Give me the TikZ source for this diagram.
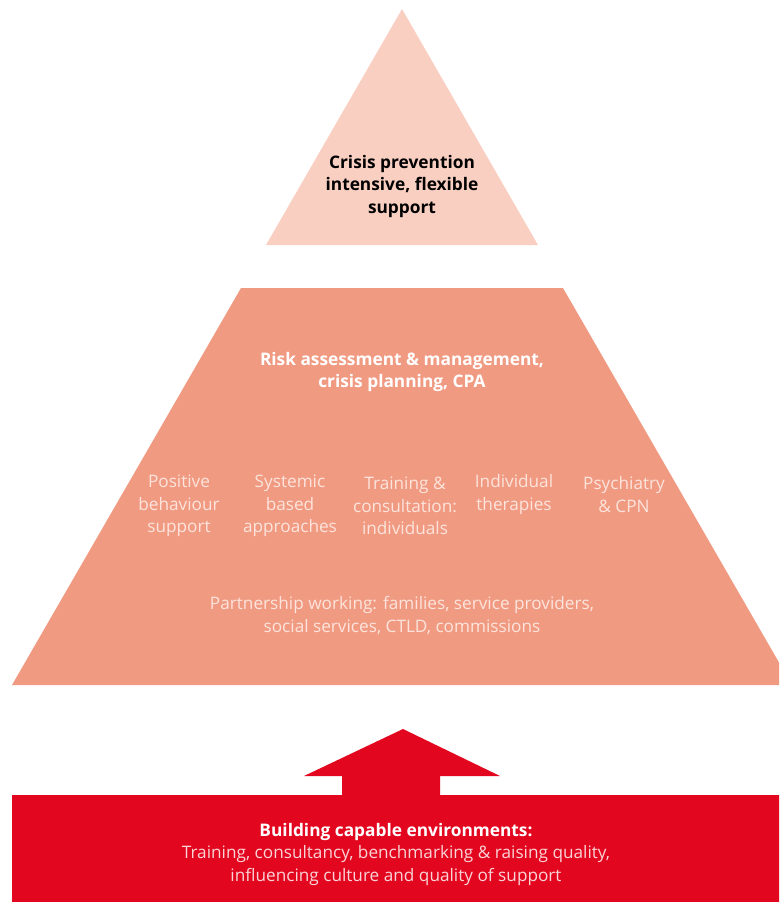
\documentclass[tikz,border=0pt]{standalone}
\usepackage{fontspec}
\setmainfont{Open Sans}
\definecolor{toptri}{HTML}{F9CFC2}
\definecolor{midtrap}{HTML}{F19A82}
\definecolor{basered}{HTML}{E2061F}
\definecolor{lighttxt}{HTML}{FCE4DC}
\definecolor{redtxt}{HTML}{FAD3D6}
\tikzset{
  boldlbl/.style={align=center, inner sep=0pt, font=\fontsize{17.3}{22.5}\selectfont\bfseries},
  lightlbl/.style={align=center, inner sep=0pt, text=lighttxt, font=\fontsize{17.2}{22.5}\selectfont},
}
\begin{document}
\begin{tikzpicture}[x=1pt,y=-1pt]
\useasboundingbox (0,0) rectangle (779,902);
\clip (0,0) rectangle (779,902);
% top triangle
\fill[toptri] (402,9) -- (538,245) -- (266,245) -- cycle;
% middle trapezoid
\fill[midtrap] (241,288) -- (563,288) -- (792,685) -- (12,685) -- cycle;
% arrow
\fill[basered] (342,800) -- (342,776) -- (304,776) -- (403,729) -- (500,776) -- (440,776) -- (440,800) -- cycle;
% bottom rect
\fill[basered] (12,795) rectangle (790,910);
% texts
\node[boldlbl, text=black] (crisis) at (402,186.5) {Crisis prevention\\intensive, flexible\\support};
\node[boldlbl, text=white] (risk) at (402,372) {Risk assessment \& management,\\crisis planning, CPA};
\node[lightlbl] (pbs) at (179,506) {Positive\\behaviour\\support};
\node[lightlbl] (sys) at (290,506) {Systemic\\based\\approaches};
\node[lightlbl] (train) at (405,506) {Training \&\\consultation:\\individuals};
\node[lightlbl] (indiv) at (514,494.5) {Individual\\therapies};
\node[lightlbl] (psych) at (624,494.5) {Psychiatry\\\& CPN};
\node[lightlbl] (partner) at (402,615.5) {Partnership working: families, service providers,\\social services, CTLD, commissions};
\node[boldlbl, text=white] (build) at (396,831.5) {Building capable environments:};
\node[lightlbl, text=redtxt] (buildsub) at (396,865.5) {Training, consultancy, benchmarking \& raising quality,\\influencing culture and quality of support};
\end{tikzpicture}
\end{document}
